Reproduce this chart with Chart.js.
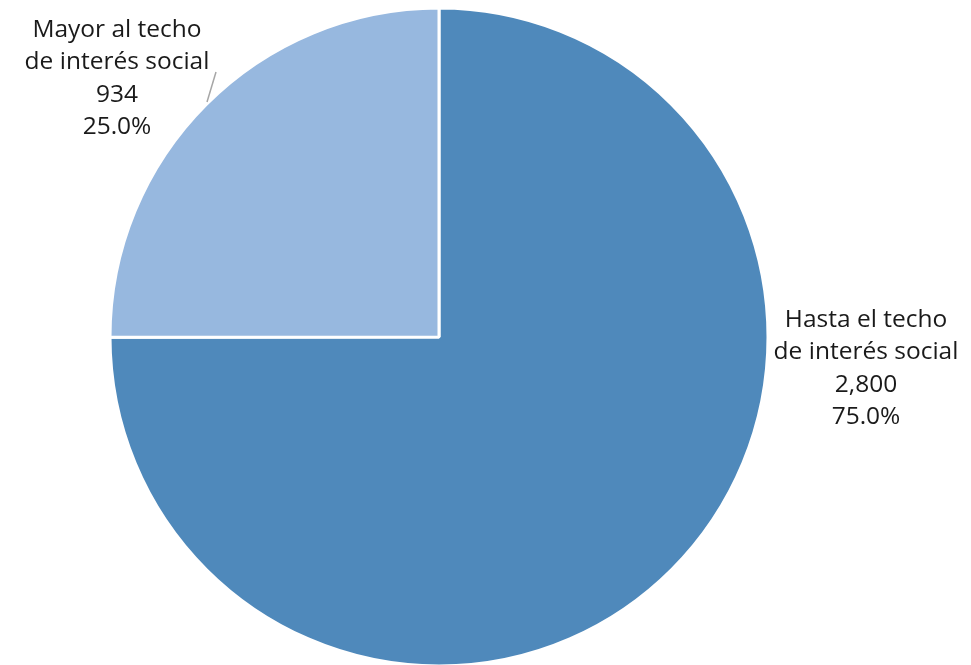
<!DOCTYPE html>
<html>
<head>
<meta charset="utf-8">
<script src="https://cdn.jsdelivr.net/npm/chart.js@4.4.0/dist/chart.umd.min.js"></script>
<style>
  html, body { margin: 0; padding: 0; background: #fff; }
  #wrap { width: 971px; height: 665px; }
</style>
</head>
<body>
<div id="wrap"><canvas id="myChart" width="971" height="665"></canvas></div>
<script>
// datos
const categorias = [['Hasta el techo', 'de interés social'], ['Mayor al techo', 'de interés social']];
const valores = [2800, 934];
const colores = ['#4f89bb', '#97b8df'];

window.addEventListener("DOMContentLoaded", function () {
    let ctx = document.getElementById('myChart');
    let total = valores.reduce((a, b) => a + b, 0);

    // etiquetas al estilo excel (nombre, valor, porcentaje)
    const etiquetas = {
        id: 'etiquetas',
        afterDraw(chart) {
            const c = chart.ctx;
            const arcs = chart.getDatasetMeta(0).data;
            const cx = arcs[0].x, cy = arcs[0].y, r = arcs[0].outerRadius;
            // posiciones relativas al centro del pie
            const pos = [
                { x: cx + r + 98, y: cy - 17 },
                { x: cx - 322, y: cy - 307 }
            ];
            c.save();
            c.font = '24.5px "Open Sans", sans-serif';
            c.fillStyle = '#1a1a1a';
            c.textAlign = 'center';
            c.textBaseline = 'middle';
            valores.forEach((v, i) => {
                const lineas = [...categorias[i], v.toLocaleString('en-US'), (v / total * 100).toFixed(1) + '%'];
                lineas.forEach((t, j) => c.fillText(t, pos[i].x, pos[i].y + j * 32.5));
            });
            // linea guia
            c.strokeStyle = '#a6a6a6';
            c.lineWidth = 1.5;
            c.beginPath();
            c.moveTo(cx - 232, cy - 235);
            c.lineTo(cx - 223, cy - 265);
            c.stroke();
            c.restore();
        }
    };

    new Chart(ctx, {
        type: 'pie',
        data: {
            labels: categorias.map(c => c.join(' ')),
            datasets: [{
                data: valores,
                backgroundColor: colores,
                borderColor: '#ffffff',
                borderWidth: 3,
                hoverOffset: 0
            }]
        },
        options: {
            responsive: false,
            animation: false,
            radius: 329,
            layout: { padding: { left: 0, right: 93, top: 9, bottom: 0 } },
            plugins: {
                legend: { display: false },
                tooltip: { enabled: false }
            }
        },
        plugins: [etiquetas]
    });
});
</script>
</body>
</html>
